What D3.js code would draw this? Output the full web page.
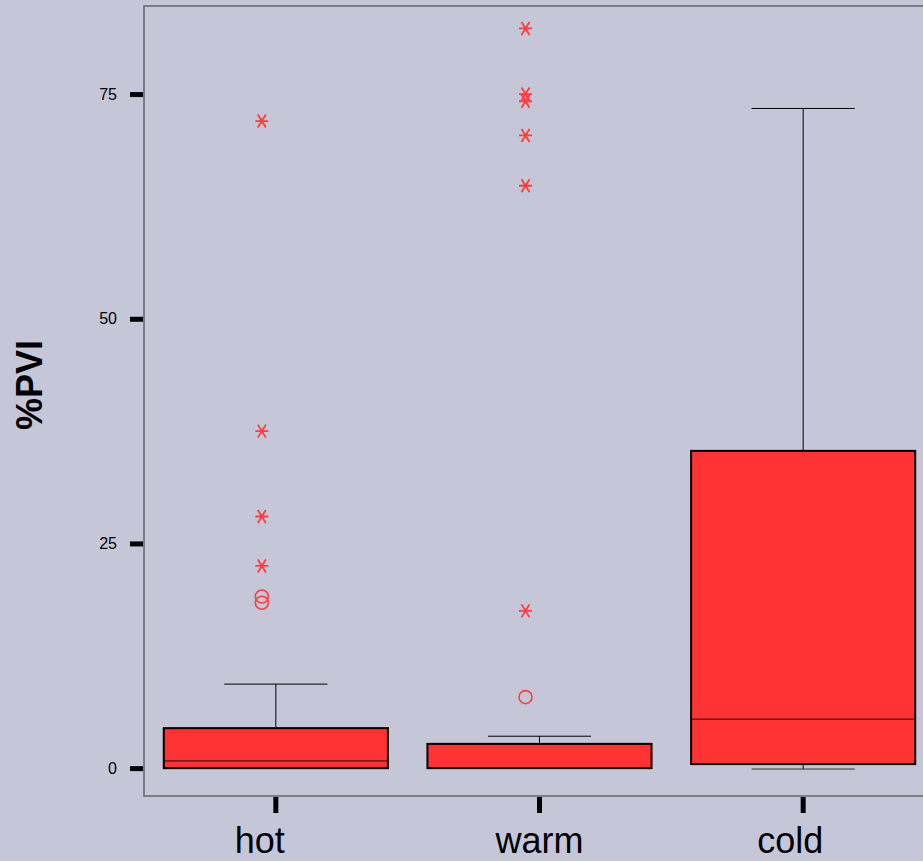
<!DOCTYPE html>
<html>
<head>
<meta charset="utf-8">
<script src="https://cdn.jsdelivr.net/npm/d3@7"></script>
<style>
  body { margin: 0; background: #c5c7d8; overflow: hidden; }
  svg { display: block; }
</style>
</head>
<body>
<div id="chart"></div>
<script>
// groups and box statistics
const groups = ["hot", "warm", "cold"];
const q1 = [0, 0, 0.45];
const medians = [0.8, 0.05, 5.45];
const q3 = [4.45, 2.7, 35.3];
const whiskLow = [0, 0, -0.1];
const whiskHigh = [9.35, 3.55, 73.4];
// outliers: circles (mild) and stars (extreme)
const circleOut = [[19.1, 18.4], [7.9], []];
const starOut = [[22.5, 28.0, 37.5, 72.0], [17.5, 64.8, 70.4, 74.2, 75.0, 82.3], []];
const yTicks = [0, 25, 50, 75];

const W = 923, H = 861;
const margin = {top: 6, right: -12, bottom: 65, left: 144};
const labelShift = [-16, 0, -13];   // category labels sit a bit left of their ticks
const outShift = -14;               // outlier markers sit left of the whisker

const svg = d3.select("#chart").append("svg")
  .attr("width", W).attr("height", H);

svg.append("rect").attr("width", W).attr("height", H).attr("fill", "#c5c7d8");

const x = d3.scaleBand()
  .domain(groups)
  .range([margin.left, W - margin.right])
  .paddingInner(0.15)
  .paddingOuter(0.075);

const y = d3.scaleLinear()
  .domain([-3.1, 84.8])
  .range([H - margin.bottom, margin.top]);

// frame
svg.append("path")
  .attr("d", `M${W + 5},${margin.top}H${margin.left}V${H - margin.bottom}H${W + 5}`)
  .attr("fill", "none")
  .attr("stroke", "#666")
  .attr("stroke-width", 1.5);

// y axis
const yAxis = svg.append("g")
  .attr("transform", `translate(${margin.left - 1},0)`)
  .call(d3.axisLeft(y).tickValues(yTicks).tickSize(13).tickPadding(13));
yAxis.select(".domain").remove();
yAxis.selectAll(".tick line").attr("stroke", "#000").attr("stroke-width", 5);
yAxis.selectAll(".tick text")
  .attr("font-family", "Liberation Sans, Arial, sans-serif")
  .attr("font-size", 16).attr("fill", "#000");

// x axis
const xAxis = svg.append("g")
  .attr("transform", `translate(0,${H - margin.bottom + 1})`)
  .call(d3.axisBottom(x).tickSize(16).tickPadding(14));
xAxis.select(".domain").remove();
xAxis.selectAll(".tick line").attr("stroke", "#000").attr("stroke-width", 5);
xAxis.selectAll(".tick text")
  .attr("dx", (d, i) => labelShift[i])
  .attr("font-family", "Liberation Sans, Arial, sans-serif")
  .attr("font-size", 36).attr("fill", "#000");

// y label
svg.append("text")
  .attr("transform", "translate(42,385) rotate(-90)")
  .attr("text-anchor", "middle")
  .attr("font-family", "Liberation Sans, Arial, sans-serif")
  .attr("font-weight", "bold")
  .attr("font-size", 36)
  .text("%PVI");

const bw = x.bandwidth();
const capW = bw * 0.46;

const box = svg.selectAll(".box")
  .data(groups)
  .enter().append("g")
  .attr("class", "box");

// whiskers
box.append("line")
  .attr("x1", d => x(d) + bw / 2).attr("x2", d => x(d) + bw / 2)
  .attr("y1", (d, i) => y(q3[i])).attr("y2", (d, i) => y(whiskHigh[i]))
  .attr("stroke", "#000").attr("stroke-width", 1);
box.append("line")
  .attr("x1", d => x(d) + bw / 2).attr("x2", d => x(d) + bw / 2)
  .attr("y1", (d, i) => y(q1[i])).attr("y2", (d, i) => y(whiskLow[i]))
  .attr("stroke", "#000").attr("stroke-width", 1);
box.append("line")
  .attr("x1", d => x(d) + bw / 2 - capW / 2).attr("x2", d => x(d) + bw / 2 + capW / 2)
  .attr("y1", (d, i) => y(whiskHigh[i])).attr("y2", (d, i) => y(whiskHigh[i]))
  .attr("stroke", "#000").attr("stroke-width", 1);
box.append("line")
  .attr("x1", d => x(d) + bw / 2 - capW / 2).attr("x2", d => x(d) + bw / 2 + capW / 2)
  .attr("y1", (d, i) => y(whiskLow[i])).attr("y2", (d, i) => y(whiskLow[i]))
  .attr("stroke", "#333").attr("stroke-width", 1);

// boxes
box.append("rect")
  .attr("x", d => x(d))
  .attr("width", bw)
  .attr("y", (d, i) => y(q3[i]))
  .attr("height", (d, i) => y(q1[i]) - y(q3[i]))
  .attr("fill", "#ff3333")
  .attr("stroke", "#000")
  .attr("stroke-width", 2);

// medians
box.append("line")
  .attr("x1", d => x(d)).attr("x2", d => x(d) + bw)
  .attr("y1", (d, i) => y(medians[i])).attr("y2", (d, i) => y(medians[i]))
  .attr("stroke", "#111").attr("stroke-width", 1);

// outliers
const outColor = "#ff3c3c";
groups.forEach((g, i) => {
  const cx = x(g) + bw / 2 + outShift;
  svg.selectAll(null)
    .data(circleOut[i])
    .enter().append("circle")
    .attr("cx", cx)
    .attr("cy", d => y(d))
    .attr("r", 6.5)
    .attr("fill", "none")
    .attr("stroke", outColor)
    .attr("stroke-width", 1.6);
  svg.selectAll(null)
    .data(starOut[i])
    .enter().append("path")
    .attr("transform", d => `translate(${cx},${y(d)})`)
    .attr("d", "M-6.5,0H6.5M-4,-6.5L4,6.5M4,-6.5L-4,6.5")
    .attr("fill", "none")
    .attr("stroke", outColor)
    .attr("stroke-width", 1.8);
});
</script>
</body>
</html>
